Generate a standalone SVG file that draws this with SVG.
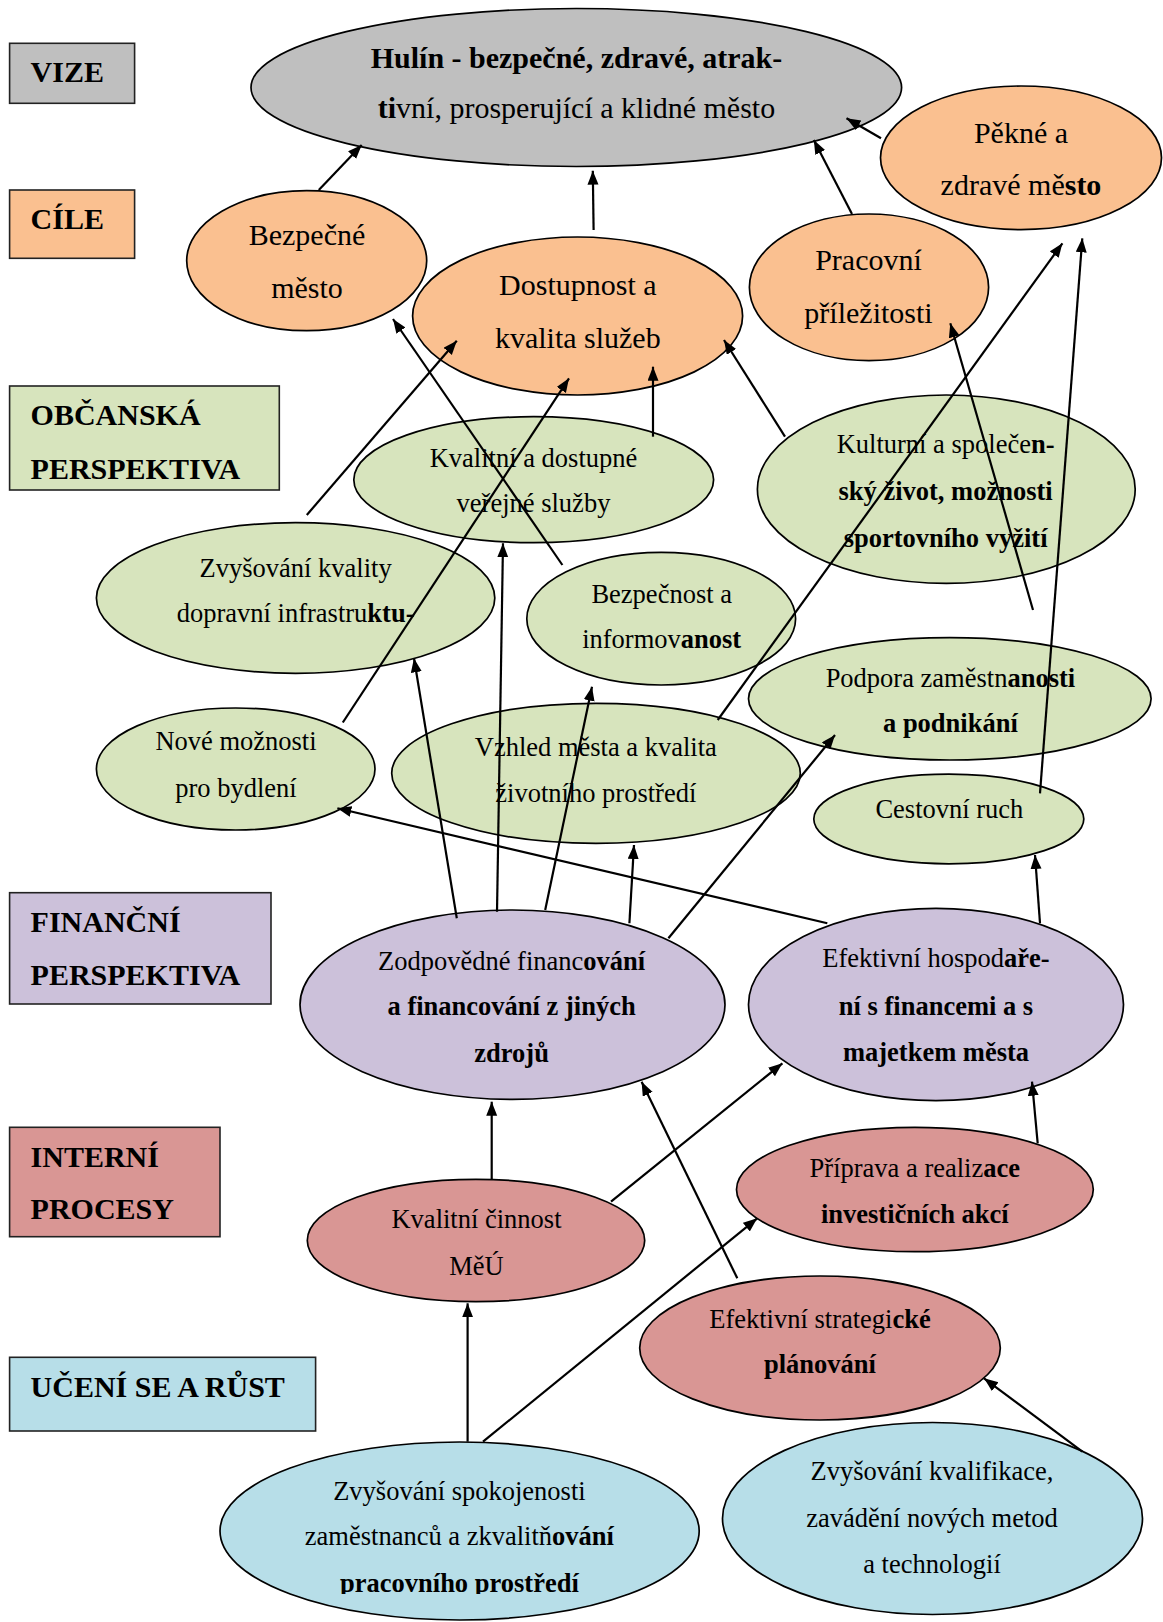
<svg xmlns="http://www.w3.org/2000/svg" width="1163" height="1622" viewBox="0 0 1163 1622">
<style>
text{font-family:"Liberation Serif","Times New Roman",serif;fill:#000}
.lbl{font-size:30px;font-weight:bold}
.big{font-size:30px;text-anchor:middle}
.sm{font-size:26.5px;text-anchor:middle}
.b{font-weight:bold}
.box{stroke:#222;stroke-width:1.6}
.el{stroke:#000;stroke-width:1.7}
.gray{fill:#bfbfbf}.org{fill:#fac090}.grn{fill:#d7e4bd}.pur{fill:#ccc1da}.red{fill:#d99694}.blu{fill:#b7dee8}
#connectors line{stroke:#000;stroke-width:2.2;marker-end:url(#ah)}
</style>
<defs>
<marker id="ah" markerUnits="userSpaceOnUse" markerWidth="15" markerHeight="12" refX="14" refY="5.5" orient="auto">
<path d="M0,0 L14,5.5 L0,11 z" fill="#000"/>
</marker>
<clipPath id="clipBottom"><rect x="0" y="0" width="1163" height="1594"/></clipPath>
</defs>
<rect width="1163" height="1622" fill="#fff"/>

<g id="labels">
<g id="lbl-vize"><rect class="box gray" x="9.6" y="43.3" width="125" height="60"/><text class="lbl" x="30.6" y="81.7">VIZE</text></g>
<g id="lbl-cile"><rect class="box org" x="9.6" y="190" width="125" height="68.3"/><text class="lbl" x="30.6" y="229.3">CÍLE</text></g>
<g id="lbl-obcanska"><rect class="box grn" x="9.6" y="386" width="269.7" height="104"/><text class="lbl" x="30.6" y="425">OBČANSKÁ</text><text class="lbl" x="30.6" y="479">PERSPEKTIVA</text></g>
<g id="lbl-financni"><rect class="box pur" x="9.6" y="892.7" width="261.4" height="111.3"/><text class="lbl" x="30.6" y="931.7">FINANČNÍ</text><text class="lbl" x="30.6" y="985">PERSPEKTIVA</text></g>
<g id="lbl-interni"><rect class="box red" x="9.6" y="1127.3" width="210.4" height="109.4"/><text class="lbl" x="30.6" y="1166.7">INTERNÍ</text><text class="lbl" x="30.6" y="1219.3">PROCESY</text></g>
<g id="lbl-uceni"><rect class="box blu" x="9.6" y="1357.3" width="306" height="73.7"/><text class="lbl" x="30.6" y="1396.7">UČENÍ SE A RŮST</text></g>
</g>

<g id="n-vize"><ellipse class="el gray" cx="576.3" cy="87.5" rx="325.3" ry="79"/>
<text class="big b" x="576.5" y="68.3">Hulín - bezpečné, zdravé, atrak-</text>
<text class="big" x="576.5" y="118.3"><tspan class="b">ti</tspan>vní, prosperující a klidné město</text></g>

<g id="n-bezpecne-mesto"><ellipse class="el org" cx="306.7" cy="260.7" rx="120" ry="70"/>
<text class="big" x="307" y="245">Bezpečné</text><text class="big" x="307" y="298.3">město</text></g>

<g id="n-dostupnost"><ellipse class="el org" cx="577.6" cy="316" rx="165" ry="79"/>
<text class="big" x="577.8" y="295">Dostupnost a</text><text class="big" x="577.8" y="348.3">kvalita služeb</text></g>

<g id="n-pracovni"><ellipse class="el org" cx="869" cy="287.3" rx="119.6" ry="73.3"/>
<text class="big" x="868.5" y="270">Pracovní</text><text class="big" x="868.5" y="323.3">příležitosti</text></g>

<g id="n-pekne"><ellipse class="el org" cx="1021" cy="157.8" rx="140.5" ry="71.8"/>
<text class="big" x="1021" y="142.7">Pěkné a</text><text class="big" x="1021" y="195">zdravé mě<tspan class="b">sto</tspan></text></g>

<g id="n-kvalitni-sluzby"><ellipse class="el grn" cx="533.7" cy="479.7" rx="179.9" ry="63"/>
<text class="sm" x="533.5" y="466.7">Kvalitní a dostupné</text><text class="sm" x="533.5" y="511.7">veřejné služby</text></g>

<g id="n-kulturni"><ellipse class="el grn" cx="946.3" cy="489.2" rx="188.9" ry="94.2"/>
<text class="sm" x="945.6" y="453.3">Kulturní a společe<tspan class="b">n-</tspan></text>
<text class="sm b" x="945.6" y="500">ský život, možnosti</text>
<text class="sm b" x="945.6" y="546.7">sportovního vyžití</text></g>

<g id="n-doprava"><ellipse class="el grn" cx="295.6" cy="598" rx="199.2" ry="75.3"/>
<text class="sm" x="295.6" y="576.7">Zvyšování kvality</text><text class="sm" x="295.6" y="621.7">dopravní infrastru<tspan class="b">ktu-</tspan></text></g>

<g id="n-bezpecnost"><ellipse class="el grn" cx="661.2" cy="618.7" rx="134.4" ry="66.3"/>
<text class="sm" x="661.7" y="603.3">Bezpečnost a</text><text class="sm" x="661.7" y="648.3">informov<tspan class="b">anost</tspan></text></g>

<g id="n-podpora"><ellipse class="el grn" cx="949.8" cy="698.8" rx="201.3" ry="61.2"/>
<text class="sm" x="950.4" y="686.7">Podpora zaměstn<tspan class="b">anosti</tspan></text><text class="sm b" x="950.4" y="731.7">a podnikání</text></g>

<g id="n-bydleni"><ellipse class="el grn" cx="235.7" cy="769" rx="139.3" ry="61"/>
<text class="sm" x="236" y="750">Nové možnosti</text><text class="sm" x="236" y="796.7">pro bydlení</text></g>

<g id="n-vzhled"><ellipse class="el grn" cx="596" cy="773.3" rx="204.3" ry="70"/>
<text class="sm" x="595.8" y="756">Vzhled města a kvalita</text><text class="sm" x="595.8" y="801.7">životního prostředí</text></g>

<g id="n-cestovni"><ellipse class="el grn" cx="948.8" cy="819" rx="135" ry="44.8"/>
<text class="sm" x="949.4" y="818.3">Cestovní ruch</text></g>

<g id="n-zodpovedne"><ellipse class="el pur" cx="512.5" cy="1004.7" rx="212.5" ry="94.7"/>
<text class="sm" x="511.6" y="970">Zodpovědné financ<tspan class="b">ování</tspan></text>
<text class="sm b" x="511.6" y="1015">a financování z jiných</text>
<text class="sm b" x="511.6" y="1061.7">zdrojů</text></g>

<g id="n-hospodareni"><ellipse class="el pur" cx="936" cy="1004.5" rx="187.5" ry="96.2"/>
<text class="sm" x="936" y="966.7">Efektivní hospod<tspan class="b">aře-</tspan></text>
<text class="sm b" x="936" y="1015">ní s financemi a s</text>
<text class="sm b" x="936" y="1060.7">majetkem města</text></g>

<g id="n-meu"><ellipse class="el red" cx="476" cy="1240.5" rx="168.7" ry="61.2"/>
<text class="sm" x="476.5" y="1228.3">Kvalitní činnost</text><text class="sm" x="476.5" y="1275">MěÚ</text></g>

<g id="n-priprava"><ellipse class="el red" cx="914.9" cy="1189.5" rx="178.4" ry="62.2"/>
<text class="sm" x="914.8" y="1176.7">Příprava a realiz<tspan class="b">ace</tspan></text><text class="sm b" x="914.8" y="1222.7">investičních akcí</text></g>

<g id="n-strategicke"><ellipse class="el red" cx="820" cy="1348" rx="180.3" ry="72"/>
<text class="sm" x="820" y="1328.3">Efektivní strategi<tspan class="b">cké</tspan></text><text class="sm b" x="820" y="1373.3">plánování</text></g>

<g id="n-spokojenost"><ellipse class="el blu" cx="459.6" cy="1531" rx="239.6" ry="89"/>
<text class="sm" x="459.4" y="1500">Zvyšování spokojenosti</text>
<text class="sm" x="459.4" y="1545">zaměstnanců a zkvalitň<tspan class="b">ování</tspan></text>
<text class="sm b" x="459.4" y="1591.7" clip-path="url(#clipBottom)">pracovního prostředí</text></g>

<g id="n-kvalifikace"><ellipse class="el blu" cx="932.5" cy="1518.5" rx="210" ry="96"/>
<text class="sm" x="932" y="1480">Zvyšování kvalifikace,</text>
<text class="sm" x="932" y="1526.7">zavádění nových metod</text>
<text class="sm" x="932" y="1572.7">a technologií</text></g>

<g id="connectors">
<line x1="318.8" y1="190" x2="361.7" y2="145"/>
<line x1="593.6" y1="230" x2="592.8" y2="170.7"/>
<line x1="852" y1="214" x2="813.8" y2="140"/>
<line x1="881" y1="138.3" x2="846.5" y2="118.3"/>
<line x1="306.8" y1="515" x2="456.8" y2="340.7"/>
<line x1="562.4" y1="565" x2="393" y2="319"/>
<line x1="653" y1="436.7" x2="653" y2="366.7"/>
<line x1="342.8" y1="722.5" x2="569" y2="378.3"/>
<line x1="785" y1="436.7" x2="724" y2="340"/>
<line x1="717.7" y1="720" x2="1062.4" y2="243.3"/>
<line x1="1040" y1="793.3" x2="1082.3" y2="238.3"/>
<line x1="1033" y1="610" x2="950.3" y2="323.3"/>
<line x1="456.8" y1="918.3" x2="414" y2="658.3"/>
<line x1="497" y1="911.7" x2="503" y2="543.3"/>
<line x1="545.2" y1="910" x2="592" y2="686.7"/>
<line x1="629.4" y1="923.3" x2="634" y2="845"/>
<line x1="668.4" y1="938.3" x2="835" y2="735"/>
<line x1="827.3" y1="923.3" x2="337.4" y2="808.3"/>
<line x1="1040" y1="923.3" x2="1035" y2="855"/>
<line x1="491.7" y1="1180" x2="491.7" y2="1101.7"/>
<line x1="611" y1="1201.7" x2="782.4" y2="1063.3"/>
<line x1="737.3" y1="1278.3" x2="641.6" y2="1081.7"/>
<line x1="1037.7" y1="1143.3" x2="1032" y2="1081.7"/>
<line x1="467.6" y1="1441.7" x2="467.6" y2="1303.3"/>
<line x1="483" y1="1441.7" x2="757.2" y2="1218.3"/>
<line x1="1082.4" y1="1451.7" x2="984" y2="1378.3"/>
</g>
</svg>
